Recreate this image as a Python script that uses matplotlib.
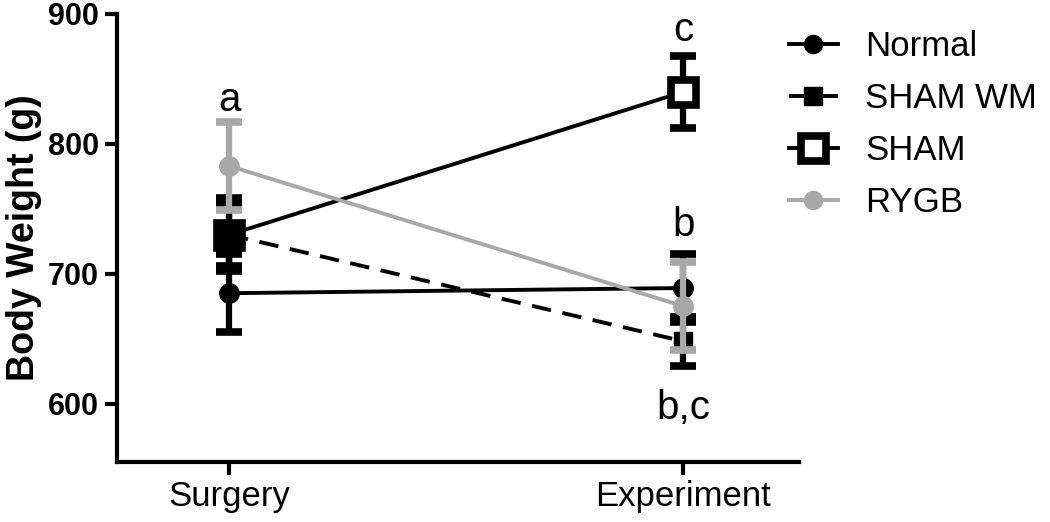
import matplotlib
matplotlib.use('Agg')
import matplotlib.pyplot as plt
from matplotlib.lines import Line2D

plt.rcParams['font.family'] = ['Liberation Sans', 'DejaVu Sans']

# time points
timepoints = ['Surgery', 'Experiment']

# group means and error (g)
normal = [685, 689]
normal_err = [30, 26]
sham_wm = [730, 648]
sham_wm_err = [24, 19]
sham = [730, 840]
sham_err = [28, 28]
rygb = [783, 675]
rygb_err = [34, 34]

# significance letters: (x index, y value, text)
letters = [(0, 825, 'a'), (1, 879, 'c'), (1, 729, 'b'), (1, 588, 'b,c')]

gray = '#a8a8a8'
x = [0, 1]

fig = plt.figure(figsize=(10.5, 5.22), dpi=100)
ax = fig.add_axes([0.1114, 0.1149, 0.6495, 0.8583])

common = dict(lw=2.8, elinewidth=4.5, capsize=9.5, capthick=5.5)

ax.errorbar(x, normal, yerr=normal_err, fmt='o-', color='black', ms=14, zorder=3, **common)
ax.errorbar(x, sham, yerr=sham_err, fmt='s-', color='black', mfc='white', mec='black', mew=5.5,
            ms=18, zorder=3, **common)
ax.errorbar(x, sham_wm, yerr=sham_wm_err, fmt='s--', color='black', ms=12.5,
            dashes=(5, 3), zorder=4, **common)
ax.errorbar(x, rygb, yerr=rygb_err, fmt='o-', color=gray, ms=14, zorder=5, **common)

for xi, yv, txt in letters:
    ax.text(xi, yv, txt, ha='center', va='baseline', fontsize=29)

ax.set_xlim(-0.247, 1.255)
ax.set_ylim(555, 900)
ax.set_xticks(x)
ax.set_xticklabels(timepoints, fontsize=25)
ax.set_yticks([600, 700, 800, 900])
for lbl in ax.get_yticklabels():
    lbl.set_fontsize(22)
    lbl.set_fontweight('bold')
ax.set_ylabel('Body Weight (g)', fontsize=27, fontweight='bold', labelpad=4)

for side in ['top', 'right']:
    ax.spines[side].set_visible(False)
for side in ['left', 'bottom']:
    ax.spines[side].set_linewidth(3)
ax.tick_params(width=3, length=9, pad=4)

# legend with plain line + marker handles
handles = [
    Line2D([], [], color='black', lw=2.8, marker='o', ms=13),
    Line2D([], [], color='black', lw=2.8, ls=(0, (5, 3)), marker='s', ms=12.5),
    Line2D([], [], color='black', lw=2.8, marker='s', ms=18, mfc='white', mew=5.5),
    Line2D([], [], color=gray, lw=2.8, marker='o', ms=13),
]
labels = ['Normal', 'SHAM WM', 'SHAM', 'RYGB']
fig.legend(handles, labels, loc='upper left', bbox_to_anchor=(789 / 1050, 1 - 30 / 522),
           frameon=False, fontsize=25, handlelength=1.4, handletextpad=0.8,
           labelspacing=0.55, borderpad=0, borderaxespad=0)

fig.savefig('out.png', dpi=100)
